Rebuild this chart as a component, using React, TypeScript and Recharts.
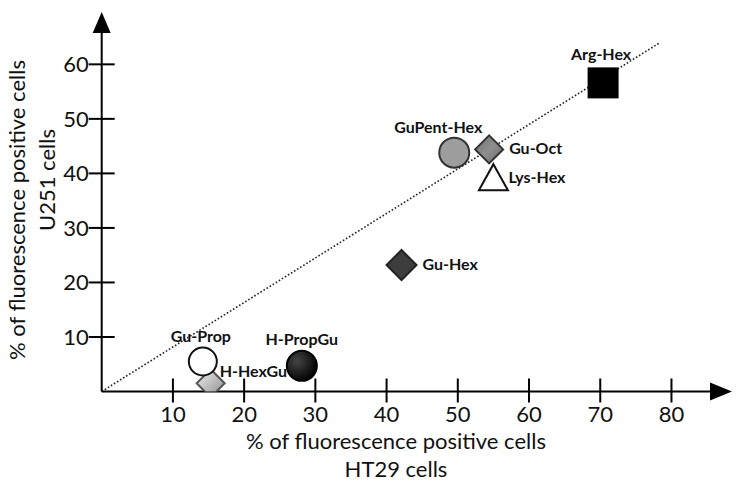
import React from 'react'
import {
  ScatterChart,
  Scatter,
  XAxis,
  YAxis,
  ReferenceLine,
  ReferenceDot,
} from 'recharts'

// compound names and the two measurements (% positive cells)
const compounds = ['H-HexGu', 'Gu-Prop', 'H-PropGu', 'Gu-Hex', 'GuPent-Hex', 'Lys-Hex', 'Gu-Oct', 'Arg-Hex']
const ht29 = [15.3, 14.2, 28.1, 42.1, 49.5, 55.0, 54.4, 70.4]
const u251 = [1.5, 5.5, 4.7, 23.2, 43.8, 39.3, 44.4, 56.6]

const xTicks = [10, 20, 30, 40, 50, 60, 70, 80]
const yTicks = [10, 20, 30, 40, 50, 60]

// trend line ends
const trendX = [0, 78.4]
const trendY = [0, 64]

const xMax = 88.5
const yMax = 69.6

const font = 'Lato, "Open Sans", sans-serif'

type Mark = 'circle' | 'diamond' | 'square' | 'triangle'

const markStyle: Record<string, { mark: Mark; fill: string; stroke: string; size: number; label: { dx: number; dy: number; anchor: 'start' | 'middle' } }> = {
  'H-HexGu': { mark: 'diamond', fill: 'url(#lightGrad)', stroke: '#555', size: 14, label: { dx: 9, dy: -6, anchor: 'start' } },
  'Gu-Prop': { mark: 'circle', fill: '#fff', stroke: '#111', size: 14, label: { dx: -2, dy: -20, anchor: 'middle' } },
  'H-PropGu': { mark: 'circle', fill: 'url(#blackGrad)', stroke: '#000', size: 15, label: { dx: 0, dy: -21, anchor: 'middle' } },
  'Gu-Hex': { mark: 'diamond', fill: '#3d3d3d', stroke: '#222', size: 15, label: { dx: 21, dy: 5, anchor: 'start' } },
  'GuPent-Hex': { mark: 'circle', fill: '#9d9d9d', stroke: '#333', size: 15, label: { dx: -16, dy: -20, anchor: 'middle' } },
  'Lys-Hex': { mark: 'triangle', fill: '#fff', stroke: '#111', size: 14.5, label: { dx: 15, dy: 6, anchor: 'start' } },
  'Gu-Oct': { mark: 'diamond', fill: 'url(#midGrad)', stroke: '#333', size: 14, label: { dx: 20, dy: 5, anchor: 'start' } },
  'Arg-Hex': { mark: 'square', fill: '#000', stroke: '#000', size: 15.5, label: { dx: -2, dy: -23, anchor: 'middle' } },
}

const points = compounds.map((name, i) => ({ name, x: ht29[i], y: u251[i] }))

function MarkShape(props: any) {
  const { cx, cy, payload } = props
  const s = markStyle[payload.name]
  const r = s.size
  let el: React.ReactNode
  if (s.mark === 'circle') {
    el = <circle cx={cx} cy={cy} r={r} fill={s.fill} stroke={s.stroke} strokeWidth={2} />
  } else if (s.mark === 'diamond') {
    el = (
      <polygon
        points={`${cx},${cy - r} ${cx + r},${cy} ${cx},${cy + r} ${cx - r},${cy}`}
        fill={s.fill}
        stroke={s.stroke}
        strokeWidth={2}
      />
    )
  } else if (s.mark === 'square') {
    el = <rect x={cx - r} y={cy - r} width={r * 2} height={r * 2} fill={s.fill} />
  } else {
    el = (
      <polygon
        points={`${cx},${cy - r * 0.9} ${cx + r},${cy + r * 0.9} ${cx - r},${cy + r * 0.9}`}
        fill={s.fill}
        stroke={s.stroke}
        strokeWidth={2}
      />
    )
  }
  return <g>{el}</g>
}

function LabelShape(props: any) {
  const { cx, cy, payload } = props
  const s = markStyle[payload.name]
  return (
    <text
      x={cx + s.label.dx}
      y={cy + s.label.dy}
      textAnchor={s.label.anchor}
      fontFamily={font}
      fontWeight={700}
      fontSize={16}
      fill="#111"
    >
      {payload.name}
    </text>
  )
}

function XTick(props: any) {
  const { x, y, payload } = props
  return (
    <g>
      <line x1={x} x2={x} y1={y - 13} y2={y + 11} stroke="#000" strokeWidth={2} />
      <text x={x} y={y + 30} textAnchor="middle" fontFamily={font} fontSize={22} fill="#111">
        {payload.value}
      </text>
    </g>
  )
}

function YTick(props: any) {
  const { x, y, payload } = props
  return (
    <g>
      <line x1={x - 13} x2={x + 13} y1={y} y2={y} stroke="#000" strokeWidth={2} />
      <text x={x - 13} y={y + 8} textAnchor="end" fontFamily={font} fontSize={22} fill="#111">
        {payload.value}
      </text>
    </g>
  )
}

function XTitle() {
  return (
    <g fontFamily={font} fontSize={22} fill="#111" textAnchor="middle">
      <text x={396} y={449}>% of fluorescence positive cells</text>
      <text x={396} y={477}>HT29 cells</text>
    </g>
  )
}

function YTitle() {
  return (
    <g fontFamily={font} fontSize={22} fill="#111" textAnchor="middle">
      <text x={0} y={0} transform="translate(25,210) rotate(-90)">% of fluorescence positive cells</text>
      <text x={0} y={0} transform="translate(55,180) rotate(-90)">U251 cells</text>
    </g>
  )
}

export default function App() {
  return (
    <div style={{ position: 'absolute', left: 0, top: 0, width: 737, height: 490, background: '#fff' }}>
      <svg width={0} height={0} style={{ position: 'absolute' }}>
        <defs>
          <linearGradient id="lightGrad" x1="0" y1="0" x2="1" y2="1">
            <stop offset="0%" stopColor="#f2f2f2" />
            <stop offset="100%" stopColor="#8a8a8a" />
          </linearGradient>
          <linearGradient id="midGrad" x1="0" y1="0" x2="1" y2="1">
            <stop offset="0%" stopColor="#6e6e6e" />
            <stop offset="50%" stopColor="#8e8e8e" />
            <stop offset="100%" stopColor="#6a6a6a" />
          </linearGradient>
          <radialGradient id="blackGrad" cx="0.35" cy="0.35" r="0.7">
            <stop offset="0%" stopColor="#444" />
            <stop offset="100%" stopColor="#000" />
          </radialGradient>
        </defs>
      </svg>
      <ScatterChart width={737} height={490} margin={{ top: 12, right: 5, left: 41.7, bottom: 68.5 }}>
        <XAxis
          type="number"
          dataKey="x"
          domain={[0, xMax]}
          ticks={xTicks}
          axisLine={false}
          tickLine={false}
          tickSize={0}
          tickMargin={0}
          height={30}
          tick={<XTick />}
          allowDataOverflow
          label={{ content: <XTitle /> }}
        />
        <YAxis
          type="number"
          dataKey="y"
          domain={[0, yMax]}
          ticks={yTicks}
          axisLine={false}
          tickLine={false}
          tickSize={0}
          tickMargin={0}
          width={60}
          tick={<YTick />}
          allowDataOverflow
          label={{ content: <YTitle /> }}
        />
        <ReferenceLine
          segment={[{ x: trendX[0], y: trendY[0] }, { x: trendX[1], y: trendY[1] }]}
          stroke="#222"
          strokeWidth={1.6}
          strokeDasharray="1.6 2"
          ifOverflow="visible"
        />
        <ReferenceLine segment={[{ x: 0, y: 0 }, { x: 86, y: 0 }]} stroke="#000" strokeWidth={2} ifOverflow="visible" />
        <ReferenceLine segment={[{ x: 0, y: 0 }, { x: 0, y: 67 }]} stroke="#000" strokeWidth={2} ifOverflow="visible" />
        <ReferenceDot
          x={xMax}
          y={0}
          ifOverflow="visible"
          shape={(p: any) => (
            <polygon points={`${p.cx},${p.cy} ${p.cx - 22},${p.cy - 9} ${p.cx - 22},${p.cy + 9}`} fill="#000" />
          )}
        />
        <ReferenceDot
          x={0}
          y={yMax}
          ifOverflow="visible"
          shape={(p: any) => (
            <polygon points={`${p.cx},${p.cy} ${p.cx - 9},${p.cy + 21} ${p.cx + 9},${p.cy + 21}`} fill="#000" />
          )}
        />
        <Scatter data={points} shape={<MarkShape />} isAnimationActive={false} />
        <Scatter data={points} shape={<LabelShape />} isAnimationActive={false} />
      </ScatterChart>
    </div>
  )
}
